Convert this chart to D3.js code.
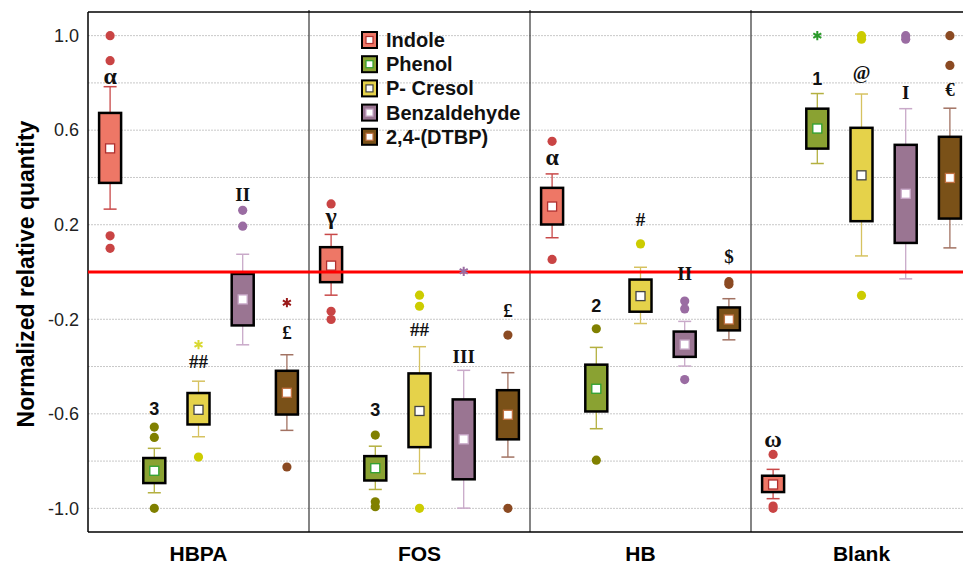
<!DOCTYPE html>
<html>
<head>
<meta charset="utf-8">
<script src="https://cdn.jsdelivr.net/npm/d3@7"></script>
<style>
  html, body { margin: 0; padding: 0; background: #fff; }
  svg { display: block; }
</style>
</head>
<body>
<svg id="chart" width="963" height="567"></svg>
<script>
// Treatment groups along the x axis and the compounds within each group
const groups = ["HBPA", "FOS", "HB", "Blank"];
const compounds = ["Indole", "Phenol", "P- Cresol", "Benzaldehyde", "2,4-(DTBP)"];

// Per group: [lower whisker, Q1, mean, Q3, upper whisker]
const indoleStats = [[0.266, 0.377, 0.523, 0.673, 0.784], [-0.098, -0.043, 0.027, 0.105, 0.159], [0.145, 0.201, 0.277, 0.356, 0.415], [-0.959, -0.931, -0.899, -0.862, -0.835]];
const phenolStats = [[-0.934, -0.893, -0.841, -0.787, -0.746], [-0.920, -0.882, -0.830, -0.779, -0.737], [-0.663, -0.590, -0.494, -0.392, -0.319], [0.459, 0.522, 0.607, 0.691, 0.755]];
const cresolStats = [[-0.697, -0.645, -0.583, -0.512, -0.462], [-0.853, -0.741, -0.588, -0.429, -0.316], [-0.218, -0.168, -0.102, -0.032, 0.020], [0.068, 0.215, 0.409, 0.610, 0.753]];
const benzStats = [[-0.308, -0.226, -0.116, -0.008, 0.075], [-0.999, -0.877, -0.708, -0.539, -0.416], [-0.398, -0.359, -0.307, -0.252, -0.209], [-0.029, 0.123, 0.331, 0.538, 0.691]];
const dtbpStats = [[-0.670, -0.603, -0.511, -0.418, -0.350], [-0.783, -0.708, -0.604, -0.500, -0.426], [-0.287, -0.247, -0.201, -0.150, -0.113], [0.102, 0.226, 0.398, 0.572, 0.693]];

// Outliers (dots) per group
const indoleOut = [[1.0, 0.894, 0.153, 0.100], [0.288, -0.166, -0.201], [0.553, 0.053], [-0.772, -0.990, -1.0]];
const phenolOut = [[-0.656, -0.700, -1.0], [-0.690, -0.972, -0.993], [-0.240, -0.796], []];
const cresolOut = [[-0.783], [-0.098, -0.145, -1.0], [0.119], [1.0, 0.985, -0.099]];
const benzOut = [[0.261, 0.194], [], [-0.123, -0.156, -0.455], [1.0, 0.985]];
const dtbpOut = [[-0.825], [-0.267, -1.0], [-0.041, -0.052], [1.0, 0.874]];

// Extreme values (asterisks) per group
const indoleExt = [[], [], [], []];
const phenolExt = [[], [], [], [1.0]];
const cresolExt = [[-0.307], [], [], []];
const benzExt = [[], [0.003], [], []];
const dtbpExt = [[-0.130], [], [], []];

// Significance marks per group: [text, level]
const indoleSig = [["α", 0.83], ["γ", 0.236], ["α", 0.485], ["ω", -0.705]];
const phenolSig = [["3", -0.578], ["3", -0.584], ["2", -0.145], ["1", 0.817]];
const cresolSig = [["##", -0.377], ["##", -0.243], ["#", 0.222], ["@", 0.842]];
const benzSig = [["II", 0.328], ["III", -0.359], ["II", -0.005], ["I", 0.758]];
const dtbpSig = [["£", -0.257], ["£", -0.161], ["$", 0.067], ["€", 0.772]];

// Y axis labelled ticks and gridline levels
const yTicks = [-1.0, -0.6, -0.2, 0.2, 0.6, 1.0];
const gridLevels = [-1.0, -0.8, -0.6, -0.4, -0.2, 0.0, 0.2, 0.4, 0.6, 0.8, 1.0];

const stats = [indoleStats, phenolStats, cresolStats, benzStats, dtbpStats];
const outs = [indoleOut, phenolOut, cresolOut, benzOut, dtbpOut];
const exts = [indoleExt, phenolExt, cresolExt, benzExt, dtbpExt];
const sigs = [indoleSig, phenolSig, cresolSig, benzSig, dtbpSig];

// Styling per compound
const boxFill = ["#ee7766", "#8aa232", "#e5d24a", "#9a7592", "#7a5118"];
const whiskerColor = ["#c84848", "#b4b040", "#d6c260", "#c9a9c9", "#a27262"];
const outlierColor = ["#c94444", "#808000", "#cccc00", "#9a6ca2", "#8b4a22"];
const meanStroke = ["#b03030", "#30a030", "#444444", "#c8a8c8", "#c07040"];
const extColor = ["#c94444", "#2a9a2a", "#d8d830", "#9a6ca2", "#9a1a1a"];
const serifSig = ["α", "γ", "ω", "II", "III", "I", "##", "#", "£", "$", "@", "€"];

const svg = d3.select("#chart");
const plotLeft = 88, plotTop = 12, plotBottom = 532, plotRight = 972;

const x = d3.scaleBand().domain(groups).range([plotLeft, plotRight]).padding(0);
const xi = d3.scalePoint().domain(compounds).range([0, x.bandwidth()]).padding(0.5);
const y = d3.scaleLinear().domain([-1.1, 1.1]).range([plotBottom, plotTop]);

const boxW = 22, capW = 13;

// Gridlines
svg.append("g").selectAll("line").data(gridLevels).join("line")
  .attr("x1", plotLeft).attr("x2", 963)
  .attr("y1", d => y(d)).attr("y2", d => y(d))
  .attr("stroke", "#c8c8c8").attr("stroke-width", 1)
  .attr("stroke-dasharray", "2,1");

// Group dividers
svg.append("g").selectAll("line").data(groups.slice(1)).join("line")
  .attr("x1", d => x(d)).attr("x2", d => x(d))
  .attr("y1", plotTop - 2).attr("y2", plotBottom)
  .attr("stroke", "#333").attr("stroke-width", 1.2);

// Frame: top, left, bottom
svg.append("line").attr("x1", plotLeft).attr("x2", 963).attr("y1", plotTop).attr("y2", plotTop)
  .attr("stroke", "#000").attr("stroke-width", 1.5);
svg.append("line").attr("x1", plotLeft).attr("x2", plotLeft).attr("y1", plotTop).attr("y2", plotBottom)
  .attr("stroke", "#000").attr("stroke-width", 1.5);
svg.append("line").attr("x1", plotLeft).attr("x2", 963).attr("y1", plotBottom).attr("y2", plotBottom)
  .attr("stroke", "#000").attr("stroke-width", 1.5);

// Y axis tick labels
const yAxis = d3.axisLeft(y).tickValues(yTicks).tickSize(0).tickPadding(9)
  .tickFormat(d => d.toFixed(1));
const ya = svg.append("g").attr("transform", `translate(${plotLeft},0)`).call(yAxis);
ya.select(".domain").remove();
ya.selectAll("text").attr("font-family", "Liberation Sans, Arial, sans-serif")
  .attr("font-size", 18).attr("fill", "#222");

// Y axis title
svg.append("text")
  .attr("transform", `translate(34,${(plotTop + plotBottom) / 2 + 2}) rotate(-90)`)
  .attr("text-anchor", "middle")
  .attr("font-family", "Liberation Sans, Arial, sans-serif")
  .attr("font-weight", "bold").attr("font-size", 23)
  .text("Normalized relative quantity");

// Group labels
svg.append("g").selectAll("text").data(groups).join("text")
  .attr("x", d => x(d) + x.bandwidth() / 2).attr("y", 561)
  .attr("text-anchor", "middle")
  .attr("font-family", "Liberation Sans, Arial, sans-serif")
  .attr("font-weight", "bold").attr("font-size", 21)
  .text(d => d);

// Build box records
const boxes = [];
groups.forEach((g, gi) => {
  compounds.forEach((c, ci) => {
    const [lo, q1, mean, q3, hi] = stats[ci][gi];
    boxes.push({ g, c, ci, lo, q1, mean, q3, hi,
      cx: x(g) + xi(c),
      outs: outs[ci][gi], exts: exts[ci][gi], sig: sigs[ci][gi] });
  });
});

const bx = svg.append("g");
boxes.forEach(b => {
  const gb = bx.append("g");
  // whiskers
  gb.append("line").attr("x1", b.cx).attr("x2", b.cx).attr("y1", y(b.q3)).attr("y2", y(b.hi))
    .attr("stroke", whiskerColor[b.ci]).attr("stroke-width", 1.3);
  gb.append("line").attr("x1", b.cx).attr("x2", b.cx).attr("y1", y(b.q1)).attr("y2", y(b.lo))
    .attr("stroke", whiskerColor[b.ci]).attr("stroke-width", 1.3);
  [b.hi, b.lo].forEach(v => {
    gb.append("line").attr("x1", b.cx - capW / 2).attr("x2", b.cx + capW / 2)
      .attr("y1", y(v)).attr("y2", y(v))
      .attr("stroke", whiskerColor[b.ci]).attr("stroke-width", 1.5);
  });
  // box
  gb.append("rect").attr("x", b.cx - boxW / 2).attr("width", boxW)
    .attr("y", y(b.q3)).attr("height", y(b.q1) - y(b.q3))
    .attr("fill", boxFill[b.ci]).attr("stroke", "#000").attr("stroke-width", 2.5);
  // mean marker
  gb.append("rect").attr("x", b.cx - 4.5).attr("y", y(b.mean) - 4.5)
    .attr("width", 9).attr("height", 9)
    .attr("fill", "#fff").attr("stroke", meanStroke[b.ci]).attr("stroke-width", 1.3);
});

// Zero reference line
svg.append("line").attr("x1", plotLeft).attr("x2", 963).attr("y1", y(0)).attr("y2", y(0))
  .attr("stroke", "#ff0000").attr("stroke-width", 3);

// Outliers and extremes
const mk = svg.append("g");
boxes.forEach(b => {
  b.outs.forEach(v => {
    mk.append("circle").attr("cx", b.cx).attr("cy", y(v)).attr("r", 4.6)
      .attr("fill", outlierColor[b.ci]);
  });
  b.exts.forEach(v => {
    mk.append("path")
      .attr("d", d3.symbol(d3.symbolAsterisk, 60)())
      .attr("transform", `translate(${b.cx},${y(v)})`)
      .attr("fill", "none").attr("stroke", extColor[b.ci]).attr("stroke-width", 2);
  });
});

// Significance marks
const sg = svg.append("g");
boxes.forEach(b => {
  const [t, lvl] = b.sig;
  const serif = serifSig.includes(t);
  const greek = ["α", "γ", "ω"].includes(t);
  sg.append("text").attr("x", b.cx).attr("y", y(lvl))
    .attr("text-anchor", "middle").attr("dominant-baseline", "central")
    .attr("font-family", serif ? "Liberation Serif, Times New Roman, serif" : "Liberation Sans, Arial, sans-serif")
    .attr("font-weight", "bold").attr("font-size", greek ? 24 : (serif ? 19 : 18))
    .attr("fill", "#111")
    .text(t);
});

// Legend
const lg = svg.append("g").attr("transform", "translate(362,40)");
compounds.forEach((c, i) => {
  const row = lg.append("g").attr("transform", `translate(0,${i * 24.2})`);
  row.append("rect").attr("x", 0).attr("y", -8).attr("width", 15).attr("height", 16)
    .attr("fill", boxFill[i]).attr("stroke", "#000").attr("stroke-width", 2);
  row.append("rect").attr("x", 4).attr("y", -3.5).attr("width", 7).attr("height", 7)
    .attr("fill", "#fff").attr("stroke", meanStroke[i]).attr("stroke-width", 1.2);
  row.append("text").attr("x", 24).attr("y", 0).attr("dominant-baseline", "central")
    .attr("font-family", "Liberation Sans, Arial, sans-serif")
    .attr("font-weight", "bold").attr("font-size", 20).attr("fill", "#111")
    .text(c);
});
</script>
</body>
</html>
